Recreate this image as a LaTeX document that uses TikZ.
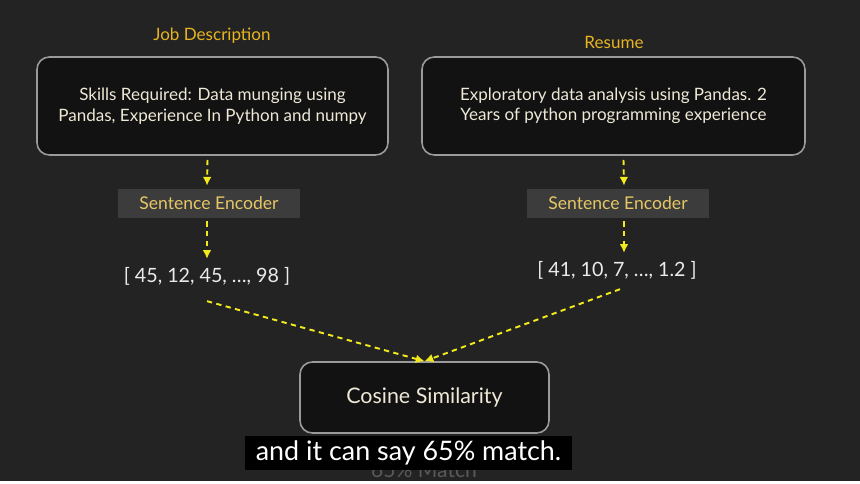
\documentclass[tikz,border=0pt]{standalone}
\usepackage{fontspec}
\setmainfont{Lato}
\usepackage{xcolor}
\usepackage{tikz}
\usetikzlibrary{positioning,arrows.meta,calc}

\definecolor{bgdark}{HTML}{232323}
\definecolor{boxfill}{HTML}{121212}
\definecolor{boxline}{HTML}{9A9A9A}
\definecolor{titlegold}{HTML}{E8B420}
\definecolor{encgold}{HTML}{E6C766}
\definecolor{encfill}{HTML}{3C3C3C}
\definecolor{cream}{HTML}{EEE8D6}
\definecolor{arrowyel}{HTML}{F2EA1C}

\begin{document}
\begin{tikzpicture}[
  x=0.02cm, y=-0.02cm,
  every node/.style={font=\fontsize{9.7pt}{11.6pt}\selectfont},
  title/.style={text=titlegold},
  textbox/.style={rectangle, draw=boxline, line width=0.9pt, rounded corners=7pt, fill=boxfill, text=cream, align=center, minimum width=351*0.02cm, minimum height=98*0.02cm},
  encoder/.style={rectangle, fill=encfill, text=encgold, minimum width=182*0.02cm, minimum height=29*0.02cm, font=\fontsize{10pt}{12pt}\selectfont},
  vector/.style={text=white!92!black, font=\fontsize{11.2pt}{13pt}\selectfont},
  flow/.style={-{Latex[length=5pt,width=5pt]}, draw=arrowyel, line width=1.1pt, dash pattern=on 3pt off 2.5pt},
]
  \fill[bgdark] (0,0) rectangle (860,481);

  % inputs
  \node[title] (jdtitle) at (212,36) {Job Description};
  \node[textbox] (jd) at (212.5,106) {Skills Required: Data munging using\\Pandas, Experience In Python and numpy};
  \node[title] (restitle) at (614,42) {Resume};
  \node[textbox, minimum width=383*0.02cm] (resume) at (613.5,106) {Exploratory data analysis using Pandas. 2\\Years of python programming experience};

  % encoders
  \node[encoder] (encL) at (209,203.5) {Sentence Encoder};
  \node[encoder] (encR) at (618,203.5) {Sentence Encoder};

  % vectors
  \node[vector] (vecL) at (207,276) {[ 45, 12, 45, \dots, 98 ]};
  \node[vector] (vecR) at (617,270) {[ 41, 10, 7, \dots, 1.2 ]};

  % similarity
  \node[textbox, minimum width=249*0.02cm, minimum height=71*0.02cm, font=\fontsize{12.2pt}{14pt}\selectfont] (cosine) at (424.5,397.5) {Cosine Similarity};

  \draw[flow] ($(jd.south)+(-5,4)$) -- ($(encL.north)+(-2,-3)$);
  \draw[flow] ($(encL.south)+(-2,3)$) -- ($(vecL.north)+(0,-2)$);
  \draw[flow] ($(resume.south)+(10,4)$) -- ($(encR.north)+(6,-3)$);
  \draw[flow] ($(encR.south)+(6,3)$) -- ($(vecR.north)+(7,-2)$);
  \draw[flow] ($(vecL.south)+(0,10)$) -- (cosine.north);
  \draw[flow] ($(vecR.south)+(3,4)$) -- (cosine.north);

  % caption
  \node[text=gray!70!black, font=\fontsize{12pt}{14pt}\selectfont] (match) at (424,470) {65\% Match};
  \node[fill=black, text=white, inner xsep=6pt, inner ysep=3pt, minimum width=327*0.02cm, minimum height=32*0.02cm, font=\fontsize{15.3pt}{17pt}\selectfont] (subtitle) at (408.5,453) {and it can say 65\% match.};
\end{tikzpicture}
\end{document}
